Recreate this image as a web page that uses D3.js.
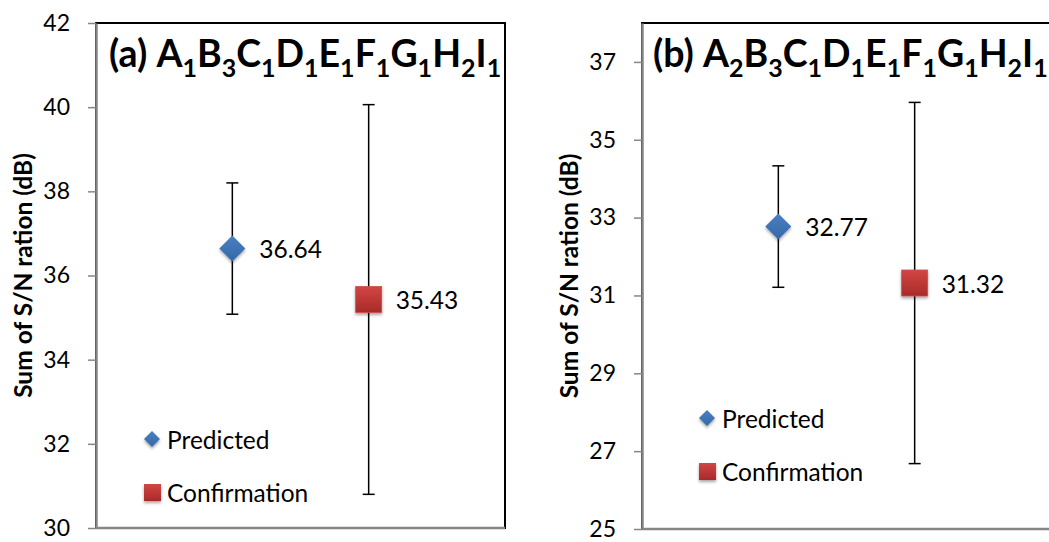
<!DOCTYPE html>
<html>
<head>
<meta charset="utf-8">
<script src="https://cdnjs.cloudflare.com/ajax/libs/d3/7.8.5/d3.min.js"></script>
<style>
  body { margin: 0; background: #fff; }
  text { font-family: Lato, "Open Sans", sans-serif; }
</style>
</head>
<body>
<svg id="chart" width="1049" height="542"></svg>
<script>
// data
var series = ["Predicted", "Confirmation"];
var valuesA = [36.64, 35.43];
var errorsA = [1.56, 4.63];
var valuesB = [32.77, 31.32];
var errorsB = [1.56, 4.64];
var ticksA = [30, 32, 34, 36, 38, 40, 42];
var ticksB = [25, 27, 29, 31, 33, 35, 37];
var titleA = [["(a) ", ""], ["A", "1"], ["B", "3"], ["C", "1"], ["D", "1"], ["E", "1"], ["F", "1"], ["G", "1"], ["H", "2"], ["I", "1"]];
var titleB = [["(b) ", ""], ["A", "2"], ["B", "3"], ["C", "1"], ["D", "1"], ["E", "1"], ["F", "1"], ["G", "1"], ["H", "2"], ["I", "1"]];
var yLabel = "Sum of S/N ration (dB)";

var svg = d3.select("#chart");

// gradients + shadow
var defs = svg.append("defs");
var gb = defs.append("linearGradient").attr("id", "gBlue").attr("x1", 0).attr("y1", 0).attr("x2", 0).attr("y2", 1);
gb.append("stop").attr("offset", "0%").attr("stop-color", "#4a7fc1");
gb.append("stop").attr("offset", "100%").attr("stop-color", "#3568a8");
var gr = defs.append("linearGradient").attr("id", "gRed").attr("x1", 0).attr("y1", 0).attr("x2", 0).attr("y2", 1);
gr.append("stop").attr("offset", "0%").attr("stop-color", "#d24644");
gr.append("stop").attr("offset", "100%").attr("stop-color", "#a82a29");
var f = defs.append("filter").attr("id", "shadow").attr("x", "-30%").attr("y", "-30%").attr("width", "160%").attr("height", "170%");
f.append("feDropShadow").attr("dx", 0).attr("dy", 2).attr("stdDeviation", 1.5).attr("flood-color", "#000").attr("flood-opacity", 0.35);

var colors = ["url(#gBlue)", "url(#gRed)"];

function drawPanel(opt) {
  var g = svg.append("g");
  var width = 409, top = 23, bottom = opt.bottom;

  var x = d3.scaleLinear().domain([0, 3]).range([opt.left, opt.left + width]);
  var y = d3.scaleLinear().domain(opt.domain).range([bottom, top]);

  // plot area border
  g.append("rect")
    .attr("x", opt.left).attr("y", top)
    .attr("width", width).attr("height", bottom - top)
    .attr("fill", "none").attr("stroke", "#000").attr("stroke-width", 2);

  // y axis
  var ax = g.append("g")
    .attr("transform", "translate(" + opt.left + ",0)")
    .call(d3.axisLeft(y).tickValues(opt.ticks).tickSize(8).tickSizeOuter(0).tickPadding(18));
  ax.select(".domain").attr("stroke", "#868686").attr("stroke-width", 2.5);
  ax.selectAll(".tick line").attr("stroke", "#868686").attr("stroke-width", 1.5);
  ax.selectAll("text").style("font-size", "23px").attr("fill", "#000").style("font-family", "Lato");

  // x axis line (bottom)
  g.append("line")
    .attr("x1", opt.left).attr("x2", opt.left + width)
    .attr("y1", bottom).attr("y2", bottom)
    .attr("stroke", "#868686").attr("stroke-width", 2.5);

  // y axis title
  g.append("text")
    .attr("transform", "translate(" + opt.ylabX + "," + ((top + bottom) / 2) + ") rotate(-90)")
    .attr("text-anchor", "middle")
    .attr("dominant-baseline", "central")
    .style("font-size", "24.5px").style("font-weight", "bold")
    .text(yLabel);

  // title with subscripts
  var t = g.append("text")
    .attr("x", opt.titleX).attr("y", 67)
    .style("font-size", "37.5px").style("font-weight", "bold");
  opt.title.forEach(function (p) {
    t.append("tspan").attr("y", 67).text(p[0]);
    if (p[1] !== "") {
      t.append("tspan").attr("y", 77).style("font-size", "25px").text(p[1]);
    }
  });

  // error bars
  var eb = g.selectAll(".err").data(opt.values).enter().append("g").attr("class", "err");
  eb.append("line")
    .attr("x1", function (d, i) { return x(i + 1); })
    .attr("x2", function (d, i) { return x(i + 1); })
    .attr("y1", function (d, i) { return y(d + opt.errors[i]); })
    .attr("y2", function (d, i) { return y(d - opt.errors[i]); })
    .attr("stroke", "#000").attr("stroke-width", 1.5);
  [1, -1].forEach(function (s) {
    eb.append("line")
      .attr("x1", function (d, i) { return x(i + 1) - 6; })
      .attr("x2", function (d, i) { return x(i + 1) + 6; })
      .attr("y1", function (d, i) { return y(d + s * opt.errors[i]); })
      .attr("y2", function (d, i) { return y(d + s * opt.errors[i]); })
      .attr("stroke", "#000").attr("stroke-width", 1.5);
  });

  // markers
  g.append("path")
    .attr("d", "M0,-13L13,0L0,13L-13,0Z")
    .attr("transform", "translate(" + x(1) + "," + y(opt.values[0]) + ")")
    .attr("fill", colors[0]).attr("filter", "url(#shadow)");
  g.append("rect")
    .attr("x", x(2) - 13).attr("y", y(opt.values[1]) - 13)
    .attr("width", 26).attr("height", 26)
    .attr("fill", colors[1]).attr("stroke", "#c9504d").attr("stroke-width", 0.8)
    .attr("filter", "url(#shadow)");

  // data labels
  g.selectAll(".lbl").data(opt.values).enter().append("text")
    .attr("x", function (d, i) { return x(i + 1) + 27; })
    .attr("y", function (d) { return y(d); })
    .attr("dominant-baseline", "central")
    .style("font-size", "24.5px")
    .text(function (d) { return d.toFixed(2); });

  // legend
  var lg = g.append("g").attr("transform", "translate(" + opt.legX + "," + opt.legY + ")");
  lg.append("path").attr("d", "M0,-8L8,0L0,8L-8,0Z")
    .attr("fill", colors[0]).attr("filter", "url(#shadow)");
  lg.append("rect").attr("x", -8).attr("y", 45).attr("width", 17).attr("height", 17)
    .attr("fill", colors[1]).attr("filter", "url(#shadow)");
  lg.selectAll(".leg").data(series).enter().append("text")
    .attr("x", 15)
    .attr("y", function (d, i) { return i * 53.5; })
    .attr("dominant-baseline", "central")
    .style("font-size", "24.5px")
    .text(function (d) { return d; });
}

drawPanel({ left: 96, bottom: 528, domain: [30, 42], ticks: ticksA, values: valuesA, errors: errorsA,
  title: titleA, titleX: 109, ylabX: 22, legX: 152, legY: 439 });
drawPanel({ left: 642, bottom: 529, domain: [25, 38], ticks: ticksB, values: valuesB, errors: errorsB,
  title: titleB, titleX: 653, ylabX: 568, legX: 707, legY: 418 });
</script>
</body>
</html>
